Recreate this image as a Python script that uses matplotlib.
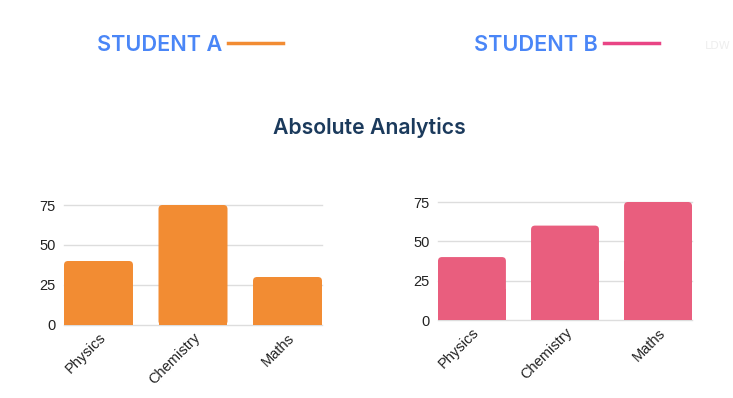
import matplotlib
matplotlib.use("Agg")
import matplotlib.pyplot as plt
from matplotlib.patches import FancyBboxPatch, Rectangle

subjects = ["Physics", "Chemistry", "Maths"]
student_a = [40, 75, 30]
student_b = [40, 60, 75]
yticks = [0, 25, 50, 75]

W, H = 733, 398
fig = plt.figure(figsize=(W / 100, H / 100), dpi=100)
tick_font = "Liberation Sans"

def px_axes(x0, x1, y_top, y_bot):
    return fig.add_axes([x0 / W, (H - y_bot) / H, (x1 - x0) / W, (y_bot - y_top) / H])

def draw(ax, values, color, width, px_w, px_h):
    # rounded-top bars, ~4px radius
    rx = 4 / (px_w / (len(subjects) - 1 + width))
    ry = 4 * 75 / px_h
    for i, v in enumerate(values):
        ax.add_patch(FancyBboxPatch((i - width / 2, 0), width, v,
                                    boxstyle=f"round,pad=0,rounding_size={rx}",
                                    mutation_aspect=ry / rx, fc=color, ec="none", zorder=3))
        ax.add_patch(Rectangle((i - width / 2, 0), width, v / 2, fc=color, ec="none", zorder=3))
    ax.set_xlim(-width / 2, len(subjects) - 1 + width / 2)
    ax.set_ylim(0, 75)
    ax.set_yticks(yticks)
    ax.set_xticks(range(len(subjects)))
    ax.set_xticklabels(subjects, rotation=45, ha="right", rotation_mode="anchor")
    ax.grid(axis="y", color="#dddddd", linewidth=1, zorder=0)
    for s in ax.spines.values():
        s.set_visible(False)
    ax.tick_params(length=0, labelsize=10.5, colors="#222222", pad=6)
    ax.tick_params(axis="x", pad=4)
    for lab in ax.get_xticklabels() + ax.get_yticklabels():
        lab.set_family(tick_font)
    for gl in ax.get_ygridlines():
        gl.set_clip_on(False)

ax1 = px_axes(64, 322, 205, 325)
draw(ax1, student_a, "#F28C33", 0.73, 258, 120)
ax2 = px_axes(438, 692, 202, 320)
draw(ax2, student_b, "#E95E7E", 0.73, 254, 118)

fig.text(97 / W, 1 - 45 / H, "STUDENT A", color="#4A86F7", fontsize=15.6,
         family="Inter", weight="semibold", va="center", ha="left")
fig.text(474 / W, 1 - 45 / H, "STUDENT B", color="#4A86F7", fontsize=15.6,
         family="Inter", weight="semibold", va="center", ha="left")
fig.add_artist(plt.Line2D([228 / W, 283 / W], [1 - 43 / H, 1 - 43 / H], color="#F28C33", lw=2.5))
fig.add_artist(plt.Line2D([604 / W, 659 / W], [1 - 43 / H, 1 - 43 / H], color="#E94585", lw=2.5))
fig.text(705 / W, 1 - 46 / H, "LDW", color="#eeeeee", fontsize=8, va="center", ha="left")

fig.text(369 / W, 1 - 128 / H, "Absolute Analytics", color="#1B3A5C", fontsize=15.3,
         family="Inter", weight="semibold", va="center", ha="center")

fig.savefig("out.png", dpi=100)
